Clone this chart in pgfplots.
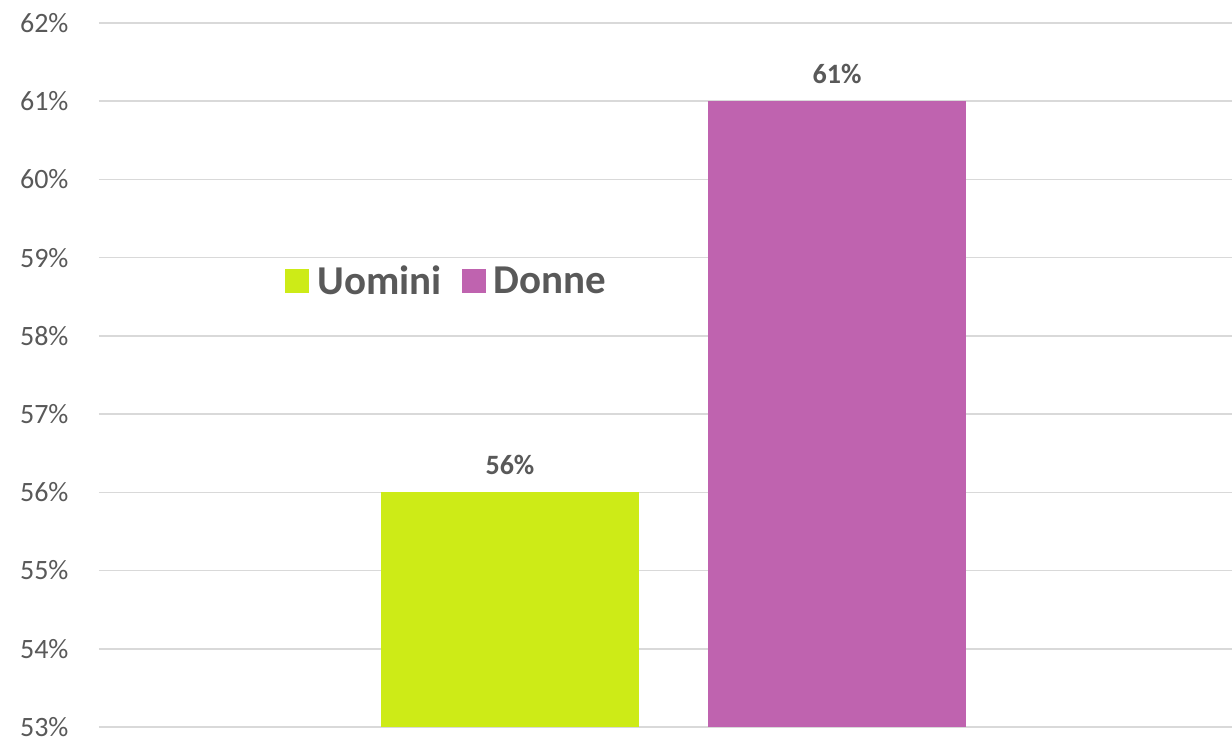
\documentclass[border=0pt]{standalone}
\usepackage{pgfplots}
\pgfplotsset{compat=1.18}
\usepackage{fontspec}
\setmainfont{Carlito}
\definecolor{txt}{HTML}{595959}
\definecolor{gridc}{HTML}{D9D9D9}
\definecolor{uom}{HTML}{CDEB17}
\definecolor{don}{HTML}{BF63AF}
\begin{document}
\begin{tikzpicture}
\path[use as bounding box] (-99pt,-16pt) rectangle (1133pt,727pt);
\begin{axis}[
  at={(0,0)}, anchor=south west,
  scale only axis, width=1133pt, height=704pt,
  xmin=99, xmax=1232, ymin=53, ymax=62,
  ytick={53,54,...,62},
  xtick=\empty,
  ymajorgrids, major grid style={draw=gridc, line width=1.5pt},
  axis line style={draw=none},
  major tick length=0pt,
  /pgf/number format/assume math mode=true,
  yticklabel={\pgfmathprintnumber{\tick}\%},
  yticklabel style={font=\fontsize{28}{32}\selectfont, text=txt, xshift=-27pt},
  ybar, bar width=258, bar shift=0pt,
  nodes near coords={\pgfmathprintnumber{\pgfplotspointmeta}\%},
  nodes near coords style={font=\bfseries\fontsize{28}{32}\selectfont, text=txt, yshift=14pt},
  legend style={draw=none, fill=none, at={(0.307,0.6335)}, anchor=center,
    legend columns=2, font=\bfseries\fontsize{41}{45}\selectfont, text=txt,
    /tikz/every even column/.append style={column sep=18pt}},
  legend image code/.code={\fill[#1] (0pt,-12pt) rectangle (24pt,12pt);},
]
\addplot[fill=uom, draw=none] coordinates {(510,56)};
\addlegendentry{\hspace{6pt}Uomini}
\addplot[fill=don, draw=none] coordinates {(837,61)};
\addlegendentry{\hspace{6pt}Donne}
\end{axis}
\end{tikzpicture}
\end{document}
